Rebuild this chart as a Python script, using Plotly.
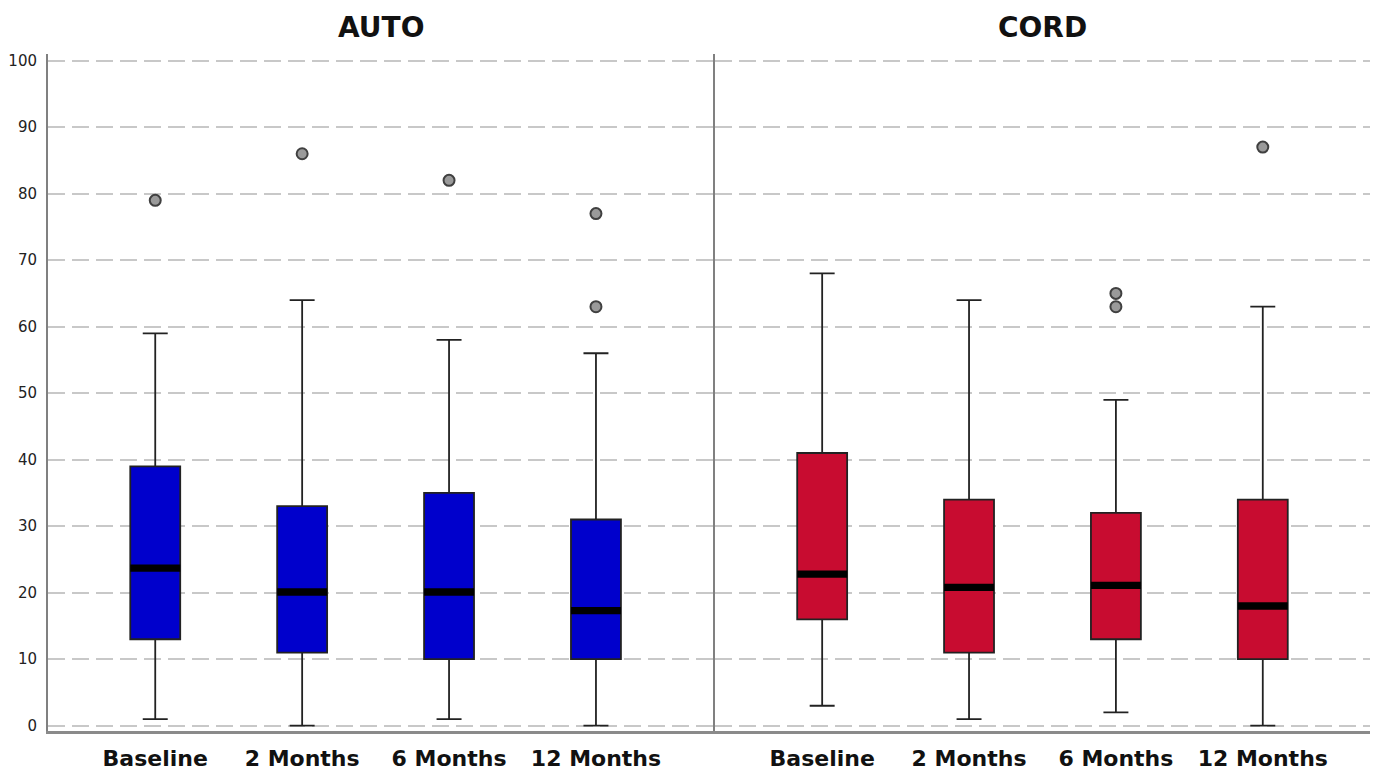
import plotly.graph_objects as go
from plotly.subplots import make_subplots

categories = ["Baseline", "2 Months", "6 Months", "12 Months"]

auto_low = [1, 0, 1, 0]
auto_q1 = [13, 11, 10, 10]
auto_med = [23.7, 20.1, 20.1, 17.3]
auto_q3 = [39, 33, 35, 31]
auto_high = [59, 64, 58, 56]
auto_out_x = ["Baseline", "2 Months", "6 Months", "12 Months", "12 Months"]
auto_out_y = [79, 86, 82, 77, 63]

cord_low = [3, 1, 2, 0]
cord_q1 = [16, 11, 13, 10]
cord_med = [22.8, 20.8, 21.1, 18.0]
cord_q3 = [41, 34, 32, 34]
cord_high = [68, 64, 49, 63]
cord_out_x = ["6 Months", "6 Months", "12 Months"]
cord_out_y = [65, 63, 87]

panel_titles = ["AUTO", "CORD"]
y_ticks = [0, 10, 20, 30, 40, 50, 60, 70, 80, 90, 100]

AUTO_COLOR = "#0000CC"
CORD_COLOR = "#C80C30"
BOX_W = 0.34
FONT = "DejaVu Sans, Liberation Sans, Arial, sans-serif"

fig = make_subplots(rows=1, cols=2, shared_yaxes=False, horizontal_spacing=0)

groups = [
    (auto_low, auto_q1, auto_med, auto_q3, auto_high, auto_out_x, auto_out_y, AUTO_COLOR),
    (cord_low, cord_q1, cord_med, cord_q3, cord_high, cord_out_x, cord_out_y, CORD_COLOR),
]

for col, (lo, q1, med, q3, hi, ox, oy, color) in enumerate(groups, start=1):
    fig.add_trace(go.Box(
        x=categories, q1=q1, median=med, q3=q3, lowerfence=lo, upperfence=hi,
        fillcolor=color, line=dict(color="#222222", width=1.8),
        width=BOX_W, whiskerwidth=0.5, boxpoints=False, showlegend=False,
        hoverinfo="skip",
    ), row=1, col=col)
    fig.add_trace(go.Scatter(
        x=ox, y=oy, mode="markers",
        marker=dict(size=11, color="#9a9a9a", line=dict(color="#404040", width=2)),
        showlegend=False,
    ), row=1, col=col)
    xref = "x" if col == 1 else "x2"
    yref = "y" if col == 1 else "y2"
    for i, m in enumerate(med):
        fig.add_shape(type="rect", xref=xref, yref=yref,
                      x0=i - BOX_W / 2, x1=i + BOX_W / 2, y0=m - 0.55, y1=m + 0.55,
                      fillcolor="black", line=dict(width=0), layer="above")

grid = dict(showgrid=True, gridcolor="#c8c8c8", gridwidth=2, griddash="17px,7px")
xfont = dict(size=22, family=FONT, color="#111111")

fig.update_layout(
    width=1379, height=773,
    margin=dict(l=40, r=17, t=46, b=50, autoexpand=False),
    plot_bgcolor="white", paper_bgcolor="white",
    font=dict(family=FONT, color="#111111"),
    xaxis=dict(domain=[0, 0.5045], range=[-0.73, 3.81], showline=True,
               linecolor="#8a8a8a", linewidth=3, ticks="", showgrid=False,
               tickfont=xfont, tickprefix="<b>", ticksuffix="</b>", ticklabelstandoff=6),
    xaxis2=dict(domain=[0.5045, 1], range=[-0.73, 3.73], showline=True,
                linecolor="#8a8a8a", linewidth=3, ticks="", showgrid=False,
                tickfont=xfont, tickprefix="<b>", ticksuffix="</b>", ticklabelstandoff=6),
    yaxis=dict(range=[-0.8, 101], tickvals=y_ticks, showline=True, linecolor="#808080",
               linewidth=2, ticks="", zeroline=False, automargin=False,
               ticklabelstandoff=6,
               tickfont=dict(size=15, color="#222222", family=FONT), **grid),
    yaxis2=dict(range=[-0.8, 101], tickvals=y_ticks, showline=True, linecolor="#808080",
                linewidth=2, ticks="", zeroline=False, showticklabels=False,
                matches="y", **grid),
)

fig.update_xaxes(type="category", categoryorder="array", categoryarray=categories,
                 automargin=False)

title_x = [(0 + 0.5045) / 2, (0.5045 + 1) / 2]
for t, xx in zip(panel_titles, title_x):
    fig.add_annotation(text=f"<b>{t}</b>", x=xx, xref="paper", xanchor="center",
                       y=1, yref="paper", yanchor="bottom", yshift=8, showarrow=False,
                       font=dict(size=28, color="#111111", family=FONT))

fig.write_html("out.html")
